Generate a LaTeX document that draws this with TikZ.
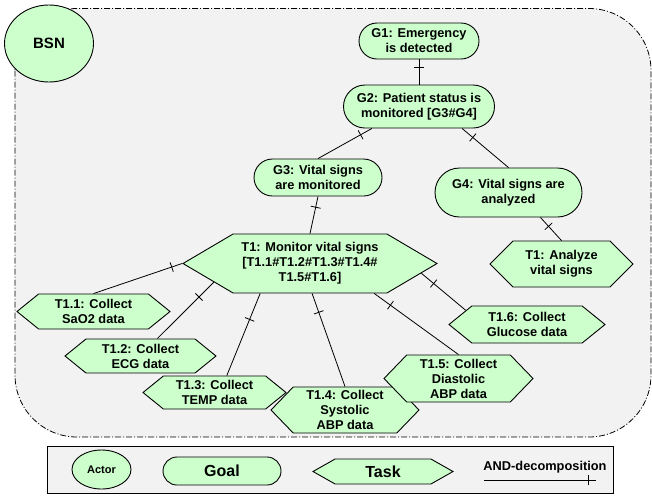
\documentclass[tikz,border=0pt]{standalone}
\usepackage{fontspec}
\setmainfont{Liberation Sans}
\usetikzlibrary{shapes.geometric,shapes.misc,shapes.symbols,decorations.markings}
\definecolor{goalgreen}{HTML}{CCFFCC}
\definecolor{bsngray}{HTML}{F2F2F2}
\tikzset{
  every node/.style = {
    font=\bfseries\fontsize{12.8}{15}\selectfont,
    align=center,
    inner sep=1pt
  },
  actor/.style = {
    ellipse, draw, line width=0.9pt, fill=goalgreen
  },
  goal/.style = {
    rounded rectangle, draw, line width=0.9pt, fill=goalgreen
  },
  task/.style = {
    signal, signal to=east and west, signal pointer angle=#1,
    draw, line width=0.9pt, fill=goalgreen
  },
  task/.default = 78,
  anddec/.style = {
    line width=0.8pt,
    postaction={decorate, decoration={markings,
      mark=at position #1 with {\draw[line width=0.8pt] (0pt,-5pt) -- (0pt,5pt);}}}
  },
  anddec/.default = 12pt,
  boundary/.style = {
    draw, fill=bsngray, line width=0.8pt, rounded corners=62pt,
    dash pattern=on 6pt off 2pt on 1pt off 2pt
  }
}

\begin{document}
\begin{tikzpicture}[x=1pt,y=-1pt]
  \useasboundingbox (0,0) rectangle (652,496);
  \path[boundary] (15,8.5) rectangle (651,437);
  \node[actor, minimum width=89, minimum height=77, font=\bfseries\fontsize{15}{17}\selectfont] (bsn) at (49,43.5) {BSN};

  \node[goal, minimum width=122, minimum height=36] (G1) at (419,41) {G1: Emergency\\is detected};
  \node[goal, minimum width=153, minimum height=43] (G2) at (419,106.5) {G2: Patient status is\\monitored [G3\#G4]};
  \node[goal, minimum width=130, minimum height=37] (G3) at (318,177.5) {G3: Vital signs\\are monitored};
  \node[goal, minimum width=149, minimum height=49] (G4) at (508.5,192.5) {G4: Vital signs are\\analyzed};

  \node[task=61, minimum width=254, minimum height=59] (T1) at (310,263.5) {T1: Monitor vital signs\\{}[T1.1\#T1.2\#T1.3\#T1.4\#\\T1.5\#T1.6]};
  \node[task=90, minimum width=143, minimum height=46] (TA) at (561.5,264) {T1: Analyze\\vital signs};
  \node[task, minimum width=153, minimum height=35] (T11) at (93.5,311.5) {T1.1: Collect\\SaO2 data};
  \node[task, minimum width=151, minimum height=34] (T12) at (140.5,356) {T1.2: Collect\\ECG data};
  \node[task, minimum width=143, minimum height=33] (T13) at (214.5,392.5) {T1.3: Collect\\TEMP data};
  \node[task=92, minimum width=148, minimum height=46] (T14) at (345,410) {T1.4: Collect\\Systolic\\ABP data};
  \node[task=92, minimum width=149, minimum height=47] (T15) at (458.5,378.5) {T1.5: Collect\\Diastolic\\ABP data};
  \node[task, minimum width=156, minimum height=37] (T16) at (527,324.5) {T1.6: Collect\\Glucose data};

  \draw[anddec=8pt] (G1.south) -- (G2.north);
  \draw[anddec=13pt] (G2.205) -- (G3.north);
  \draw[anddec=14pt] (G2.333) -- (G4.north);
  \draw[anddec=11pt] (G3.south) -- (T1.north);
  \draw[anddec=12pt] (G4.322) -- (TA.north);
  \draw[anddec=11pt] (T1.180) -- (T11.north);
  \draw[anddec=21pt] (T1.191) -- (T12.46);
  \draw[anddec=28pt] (T1.211) -- (T13.54);
  \draw[anddec=20pt] (T1.274) -- (T14.north);
  \draw[anddec=20pt] (T1.335) -- (T15.north);
  \draw[anddec=16pt] (T1.355) -- (T16.167);

  \node[draw, fill=bsngray, line width=0.9pt, minimum width=566, minimum height=47] (legend) at (330,469.5) {};
  \node[actor, minimum width=59, minimum height=39, font=\bfseries\fontsize{11}{13}\selectfont] (lactor) at (101.5,469.5) {Actor};
  \node[goal, minimum width=120, minimum height=28, font=\bfseries\fontsize{16}{18}\selectfont] (lgoal) at (222,471) {Goal};
  \node[task=59, minimum width=140, minimum height=25, font=\bfseries\fontsize{16}{18}\selectfont] (ltask) at (383,471.5) {Task};
  \node (land) at (545,467) {AND-decomposition};
  \coordinate (l1) at (484,480);
  \coordinate (l2) at (596,480);
  \draw[anddec=-8pt] (l1) -- (l2);
\end{tikzpicture}
\end{document}
